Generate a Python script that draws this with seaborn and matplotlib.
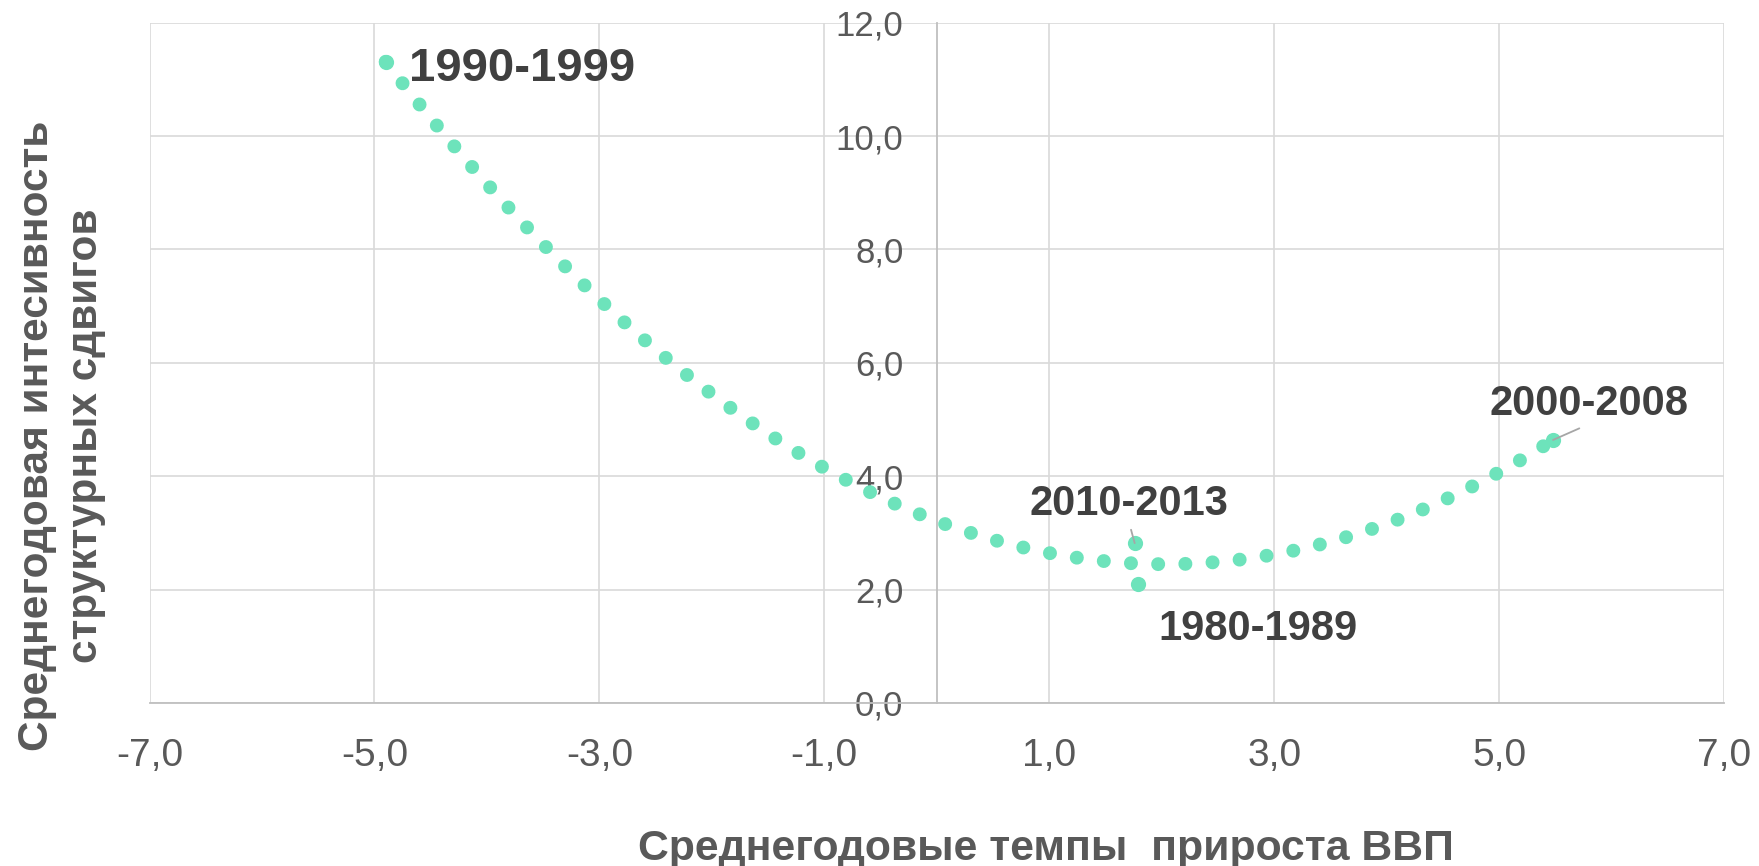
import matplotlib
matplotlib.use("Agg")
import matplotlib.pyplot as plt
from matplotlib.ticker import FuncFormatter, FixedLocator
import seaborn as sns
import pandas as pd

# ---- data ----
periods = ["1990-1999", "2010-2013", "1980-1989", "2000-2008"]
gdp_growth = [-4.90, 1.76, 1.79, 5.48]
intensity = [11.31, 2.82, 2.10, 4.64]
x_ticks = [-7, -5, -3, -1, 1, 3, 5, 7]
y_ticks = [0, 2, 4, 6, 8, 10, 12]
x_title = "Среднегодовые темпы  прироста ВВП"
y_title = "Среднегодовая интесивность\nструктурных сдвигов"

df = pd.DataFrame({"gdp": gdp_growth, "intensity": intensity, "period": periods})

sns.set_style("white")
plt.rcParams["font.family"] = ["Liberation Sans", "DejaVu Sans"]

GREEN = "#6DE3BB"
TICK = "#595959"
LABEL = "#404040"
GRID = "#D9D9D9"
AXIS = "#BFBFBF"

fig = plt.figure(figsize=(17.59, 8.66), dpi=100)
ax = fig.add_axes([149.5 / 1759, 1 - 703 / 866, (1724 - 149.5) / 1759, (703 - 22.7) / 866])

sns.regplot(data=df, x="gdp", y="intensity", order=2, ci=None, truncate=True, ax=ax,
            scatter_kws=dict(s=120, color=GREEN, linewidths=0, zorder=4, alpha=1),
            line_kws=dict(color=GREEN, lw=10, linestyle=(0, (0.01, 1.95)),
                          dash_capstyle="round", zorder=3))

ax.set_xlim(-7, 7)
ax.set_ylim(0, 12)
ax.xaxis.set_major_locator(FixedLocator(x_ticks))
ax.yaxis.set_major_locator(FixedLocator(y_ticks))
fmt = FuncFormatter(lambda v, p: f"{v:.1f}".replace(".", ","))
ax.xaxis.set_major_formatter(fmt)
ax.yaxis.set_major_formatter(fmt)
ax.set_xlabel("")
ax.set_ylabel("")

ax.grid(True, color=GRID, lw=1.2, zorder=0)
ax.set_axisbelow(True)
for s in ["top", "right"]:
    ax.spines[s].set_visible(False)
ax.spines["left"].set_position(("data", 0))
ax.spines["left"].set_color(AXIS)
ax.spines["left"].set_linewidth(1.3)
ax.spines["bottom"].set_color(AXIS)
ax.spines["bottom"].set_linewidth(1.3)
ax.tick_params(axis="x", length=0, pad=25, labelsize=28, labelcolor=TICK)
ax.tick_params(axis="y", length=0, pad=24, labelsize=25, labelcolor=TICK)

# data labels
offsets = {
    "1990-1999": ((98.4, -13.5), 34, False),
    "2010-2013": ((-3.8, 20.4), 30, True),
    "1980-1989": ((86.2, -40.3), 30, False),
    "2000-2008": ((26.1, 18.0), 30, True),
}
for p, xv, yv in zip(periods, gdp_growth, intensity):
    (dx, dy), fs, leader = offsets[p]
    kw = {}
    if leader:
        kw["arrowprops"] = dict(arrowstyle="-", color="#A6A6A6", lw=1.3,
                                shrinkA=2, shrinkB=0, relpos=(0.5, 0.0))
    ax.annotate(p, xy=(xv, yv), xytext=(dx, dy), textcoords="offset points",
                ha="center", va="baseline", fontsize=fs, fontweight="bold",
                color=LABEL, zorder=5, **kw)

fig.text(1046 / 1759, 1 - 860 / 866, x_title, ha="center", va="baseline",
         fontsize=30.8, fontweight="bold", color=TICK)
fig.text(61.5 / 1759, 1 - 436 / 866, y_title, ha="center", va="center", rotation=90,
         fontsize=30.5, fontweight="bold", color=TICK, multialignment="center",
         linespacing=1.3)

fig.savefig("out.png", dpi=100, facecolor="white")
